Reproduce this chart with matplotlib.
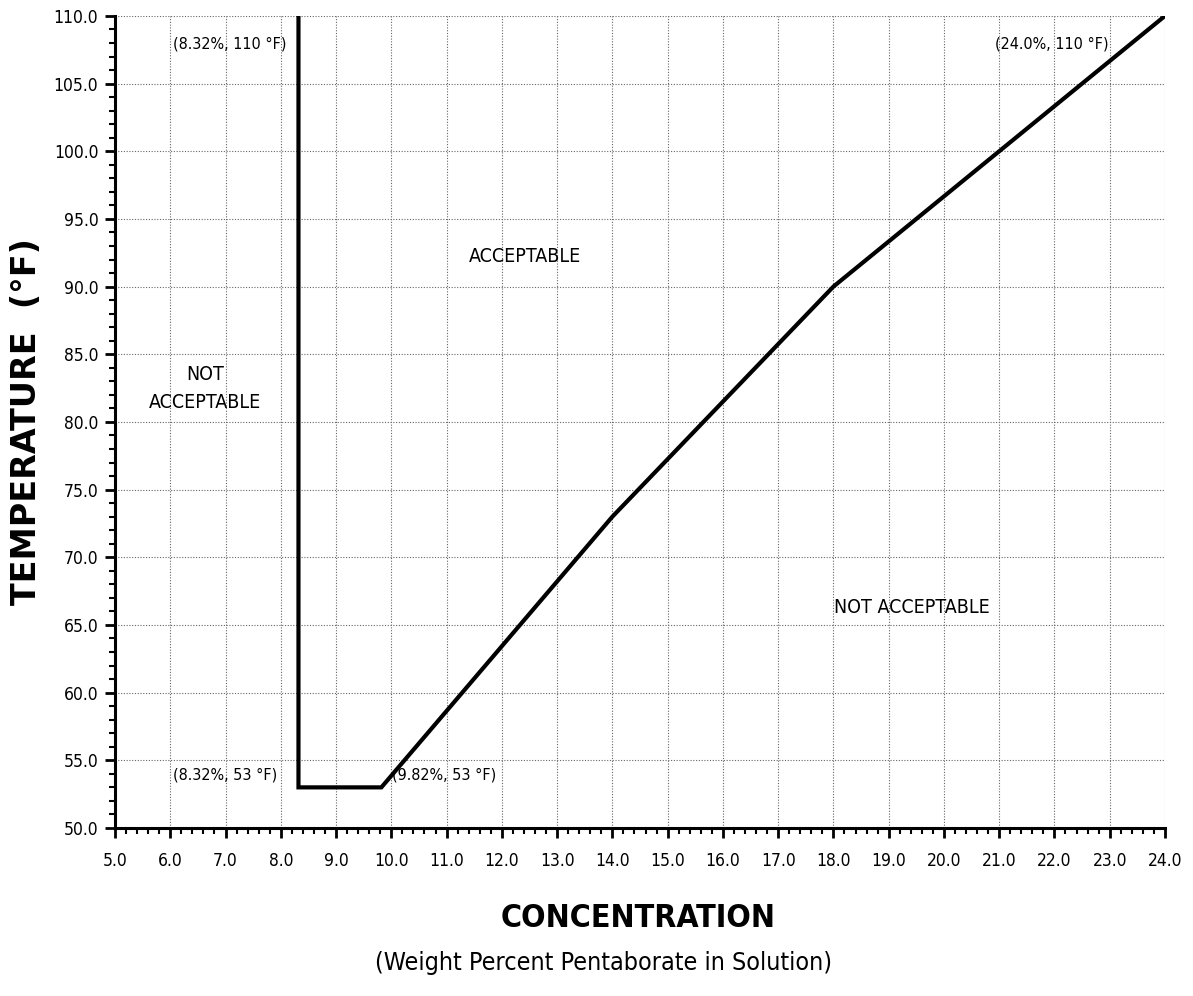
import matplotlib
matplotlib.use("Agg")
import matplotlib.pyplot as plt
from matplotlib.ticker import MultipleLocator, FormatStrFormatter

# boundary of the acceptable region
conc = [8.32, 8.32, 9.82, 14.0, 18.0, 24.0]
temp = [110.0, 53.0, 53.0, 73.0, 90.0, 110.0]

# point labels and region labels
notes = ["(8.32%, 110 °F)", "(24.0%, 110 °F)", "(8.32%, 53 °F)", "(9.82%, 53 °F)"]
note_x = [7.08, 21.96, 6.99, 10.95]
note_y = [107.9, 107.9, 53.9, 53.9]
regions = ["ACCEPTABLE", "NOT\nACCEPTABLE", "NOT ACCEPTABLE"]
region_x = [12.42, 6.63, 19.42]
region_y = [92.2, 82.5, 66.3]

plt.rcParams["font.family"] = ["DejaVu Sans"]
plt.rcParams["font.stretch"] = "condensed"

fig = plt.figure(figsize=(11.93, 9.96), dpi=100)
ax = fig.add_axes([0.0964, 0.1687, 0.8801, 0.8153])

ax.plot(conc, temp, color="black", lw=3.0, solid_joinstyle="miter", zorder=3)

for t, x, y in zip(notes, note_x, note_y):
    ax.text(x, y, t, ha="center", va="center", fontsize=11.5, fontstretch="condensed")
for t, x, y in zip(regions, region_x, region_y):
    ax.text(x, y, t, ha="center", va="center", fontsize=14, fontstretch="condensed",
            linespacing=1.6)

ax.set_xlim(5, 24)
ax.set_ylim(50, 110)
ax.xaxis.set_major_locator(MultipleLocator(1))
ax.xaxis.set_minor_locator(MultipleLocator(0.2))
ax.yaxis.set_major_locator(MultipleLocator(5))
ax.yaxis.set_minor_locator(MultipleLocator(1))
ax.xaxis.set_major_formatter(FormatStrFormatter("%.1f"))
ax.yaxis.set_major_formatter(FormatStrFormatter("%.1f"))

ax.grid(True, which="major", color="#666666", lw=0.8, linestyle=(0, (1, 1.5)))
ax.set_axisbelow(True)
for s in ["top", "right"]:
    ax.spines[s].set_visible(False)
for s in ["left", "bottom"]:
    ax.spines[s].set_linewidth(2.2)

ax.tick_params(which="major", length=7, width=2, labelsize=12.5, pad=5)
ax.tick_params(which="minor", length=4, width=1.5)
ax.tick_params(axis="x", pad=10)

ax.set_ylabel("TEMPERATURE  (°F)", fontsize=24, fontweight="bold", labelpad=8,
              fontstretch="normal")
fig.text(0.535, 0.078, "CONCENTRATION", ha="center", va="center", fontsize=23,
         fontweight="bold")
fig.text(0.506, 0.033, "(Weight Percent Pentaborate in Solution)", ha="center",
         va="center", fontsize=18)

fig.savefig("out.png", dpi=100)
